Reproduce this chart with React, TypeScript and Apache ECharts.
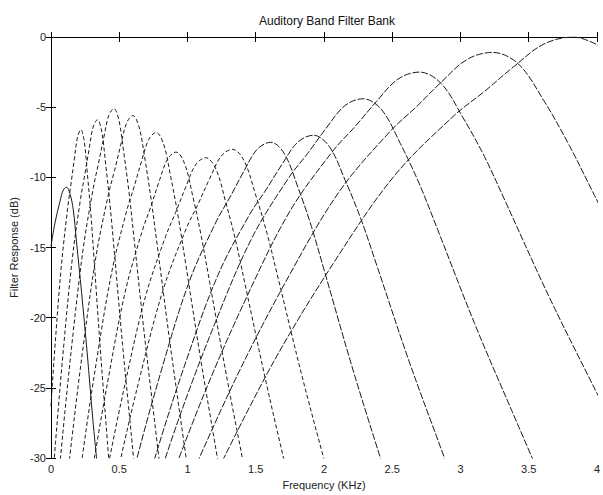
import React, { useEffect, useRef } from "react";
import * as echarts from "echarts";

// Filter responses: [frequency kHz, response dB]
const FILTER_01 = [[0, -14.9], [0.03, -13.2], [0.066, -11.7], [0.09, -10.9], [0.114, -10.7], [0.14, -11.2], [0.163, -12.3], [0.187, -14.6], [0.224, -18.2], [0.265, -22.5], [0.308, -27.4], [0.34, -30.6]];
const FILTER_02 = [[0, -26.3], [0.025, -22.6], [0.074, -16.5], [0.122, -12.2], [0.146, -10.5], [0.171, -8.7], [0.195, -7.1], [0.219, -6.6], [0.243, -7.4], [0.267, -9.8], [0.292, -12.6], [0.316, -15.9], [0.364, -22.6], [0.413, -28.8], [0.461, -34.9]];
const FILTER_03 = [[0, -33.2], [0.033, -28.9], [0.094, -21.9], [0.156, -15.8], [0.217, -11.5], [0.248, -9.8], [0.279, -8.0], [0.309, -6.4], [0.34, -5.9], [0.371, -6.7], [0.401, -9.1], [0.432, -11.9], [0.463, -15.2], [0.524, -21.9], [0.586, -28.1], [0.647, -34.2]];
const FILTER_04 = [[0.014, -36.1], [0.088, -28.1], [0.162, -21.1], [0.237, -15.0], [0.311, -10.7], [0.348, -9.0], [0.386, -7.2], [0.423, -5.6], [0.46, -5.1], [0.497, -5.9], [0.534, -8.3], [0.572, -11.1], [0.609, -14.4], [0.683, -21.1], [0.758, -27.3], [0.832, -33.4]];
const FILTER_05 = [[0.063, -36.6], [0.153, -28.6], [0.242, -21.6], [0.332, -15.5], [0.421, -11.2], [0.466, -9.5], [0.511, -7.7], [0.555, -6.1], [0.6, -5.6], [0.645, -6.4], [0.69, -8.8], [0.734, -11.6], [0.779, -14.9], [0.869, -21.6], [0.958, -27.8], [1.048, -33.9]];
const FILTER_06 = [[0.123, -37.8], [0.231, -29.8], [0.338, -22.8], [0.446, -16.7], [0.554, -12.4], [0.608, -10.7], [0.662, -8.9], [0.716, -7.3], [0.77, -6.8], [0.824, -7.6], [0.878, -10.0], [0.932, -12.8], [0.986, -16.1], [1.094, -22.8], [1.202, -29.0], [1.31, -35.1]];
const FILTER_07 = [[0.174, -39.2], [0.298, -31.2], [0.422, -24.2], [0.545, -18.1], [0.669, -13.8], [0.731, -12.1], [0.792, -10.3], [0.854, -8.7], [0.916, -8.2], [0.978, -9.0], [1.04, -11.4], [1.101, -14.2], [1.163, -17.5], [1.287, -24.2], [1.41, -30.4], [1.53, -36.5]];
const FILTER_08 = [[0.251, -39.6], [0.398, -31.6], [0.545, -24.6], [0.692, -18.5], [0.84, -14.2], [0.913, -12.5], [0.987, -10.7], [1.06, -9.1], [1.134, -8.6], [1.208, -9.4], [1.281, -11.8], [1.355, -14.6], [1.428, -17.9], [1.576, -24.6], [1.723, -30.8], [1.87, -36.9]];
const FILTER_09 = [[0.32, -39.0], [0.489, -31.0], [0.657, -24.0], [0.825, -17.9], [0.993, -13.6], [1.078, -11.9], [1.162, -10.1], [1.246, -8.5], [1.33, -8.0], [1.414, -8.8], [1.498, -11.2], [1.583, -14.0], [1.667, -17.3], [1.835, -24.0], [2.003, -30.2], [2.17, -36.3]];
const FILTER_10 = [[0.418, -38.5], [0.617, -30.5], [0.816, -23.5], [1.014, -17.4], [1.213, -13.1], [1.312, -11.4], [1.411, -9.6], [1.511, -8.0], [1.61, -7.5], [1.709, -8.3], [1.809, -10.7], [1.908, -13.5], [2.007, -16.8], [2.206, -23.5], [2.404, -29.7], [2.603, -35.8]];
const FILTER_11 = [[0.529, -38.0], [0.761, -30.0], [0.993, -23.0], [1.226, -16.9], [1.458, -12.6], [1.574, -10.9], [1.691, -9.1], [1.807, -7.5], [1.923, -7.0], [2.039, -7.8], [2.155, -10.2], [2.272, -13.0], [2.388, -16.3], [2.62, -23.0], [2.853, -29.2], [3.085, -35.3]];
const FILTER_12 = [[0.657, -35.4], [0.929, -27.4], [1.201, -20.4], [1.473, -14.3], [1.744, -10.0], [1.88, -8.3], [2.016, -6.5], [2.152, -4.9], [2.288, -4.4], [2.424, -5.2], [2.56, -7.6], [2.696, -10.4], [2.832, -13.7], [3.103, -20.4], [3.375, -26.6], [3.647, -32.7]];
const FILTER_13 = [[0.802, -33.5], [1.119, -25.5], [1.435, -18.5], [1.751, -12.4], [2.067, -8.1], [2.226, -6.4], [2.384, -4.6], [2.542, -3.0], [2.7, -2.5], [2.858, -3.3], [3.016, -5.7], [3.175, -8.5], [3.333, -11.8], [3.649, -18.5], [3.965, -24.7], [4.282, -30.8]];
const FILTER_14 = [[0.99, -32.1], [1.365, -24.1], [1.739, -17.1], [2.113, -11.0], [2.487, -6.7], [2.674, -5.0], [2.861, -3.2], [3.048, -1.6], [3.235, -1.1], [3.422, -1.9], [3.609, -4.5], [3.796, -7.7], [3.983, -11.3], [4.357, -18.5]];
const FILTER_15 = [[1.256, -30.2], [1.639, -23.0], [2.077, -16.0], [2.515, -9.9], [2.953, -5.6], [3.173, -3.9], [3.392, -2.1], [3.611, -0.5], [3.83, 0], [4.049, -0.8]];

const FILTERS = [FILTER_01, FILTER_02, FILTER_03, FILTER_04, FILTER_05, FILTER_06, FILTER_07, FILTER_08, FILTER_09, FILTER_10, FILTER_11, FILTER_12, FILTER_13, FILTER_14, FILTER_15];

const TITLE = "Auditory Band Filter Bank";
const X_NAME = "Frequency (KHz)";
const Y_NAME = "Filter Response (dB)";

const FONT = "'Liberation Sans', Arial, Helvetica, sans-serif";

export default function App() {
  const ref = useRef<HTMLDivElement>(null);

  useEffect(() => {
    if (!ref.current) return;
    const chart = echarts.init(ref.current, undefined, { renderer: "svg" });

    const lineType = (i: number): any => {
      if (i === 0) return "solid";
      if (i < 9) return [4, 2.5];
      return [7, 1.8];
    };

    const series = FILTERS.map((data, i) => ({
      type: "line",
      data,
      xAxisIndex: 0,
      yAxisIndex: 0,
      showSymbol: false,
      symbol: "none",
      smooth: 0.35,
      clip: true,
      lineStyle: { color: "#1a1a1a", width: 1, type: lineType(i) },
      silent: true,
    }));

    const baseAxisLine = { show: true, lineStyle: { color: "#000", width: 1 } };
    const tick = { show: true, inside: true, length: 5, lineStyle: { color: "#000", width: 1 } };
    const labelStyle = { fontFamily: FONT, fontSize: 11, color: "#222" };

    chart.setOption({
      animation: false,
      backgroundColor: "#fff",
      title: {
        text: TITLE,
        left: 322,
        top: 10,
        textAlign: "center",
        textStyle: { fontFamily: FONT, fontSize: 12, fontWeight: "normal", color: "#111" },
      },
      grid: { left: 51, right: 3, top: 37, bottom: 33, containLabel: false },
      xAxis: [
        {
          type: "value",
          min: 0,
          max: 4,
          interval: 0.5,
          position: "bottom",
          axisLine: baseAxisLine,
          axisTick: tick,
          axisLabel: { ...labelStyle, margin: 5 },
          splitLine: { show: false },
          name: X_NAME,
          nameLocation: "middle",
          nameGap: 20,
          nameTextStyle: { fontFamily: FONT, fontSize: 11, color: "#222" },
        },
        {
          type: "value",
          min: 0,
          max: 4,
          interval: 0.5,
          position: "top",
          axisLine: baseAxisLine,
          axisTick: tick,
          axisLabel: { show: false },
          splitLine: { show: false },
        },
      ],
      yAxis: [
        {
          type: "value",
          min: -30,
          max: 0,
          interval: 5,
          position: "left",
          axisLine: baseAxisLine,
          axisTick: tick,
          axisLabel: { ...labelStyle, margin: 5 },
          splitLine: { show: false },
          name: Y_NAME,
          nameLocation: "middle",
          nameGap: 30,
          nameRotate: 90,
          nameTextStyle: { fontFamily: FONT, fontSize: 11, color: "#222" },
        },
        {
          type: "value",
          min: -30,
          max: 0,
          interval: 5,
          position: "right",
          axisLine: baseAxisLine,
          axisTick: tick,
          axisLabel: { show: false },
          splitLine: { show: false },
        },
      ],
      series,
    });

    return () => chart.dispose();
  }, []);

  return (
    <div
      ref={ref}
      style={{ position: "fixed", left: 0, top: 0, width: 603, height: 495, background: "#fff" }}
    />
  );
}
